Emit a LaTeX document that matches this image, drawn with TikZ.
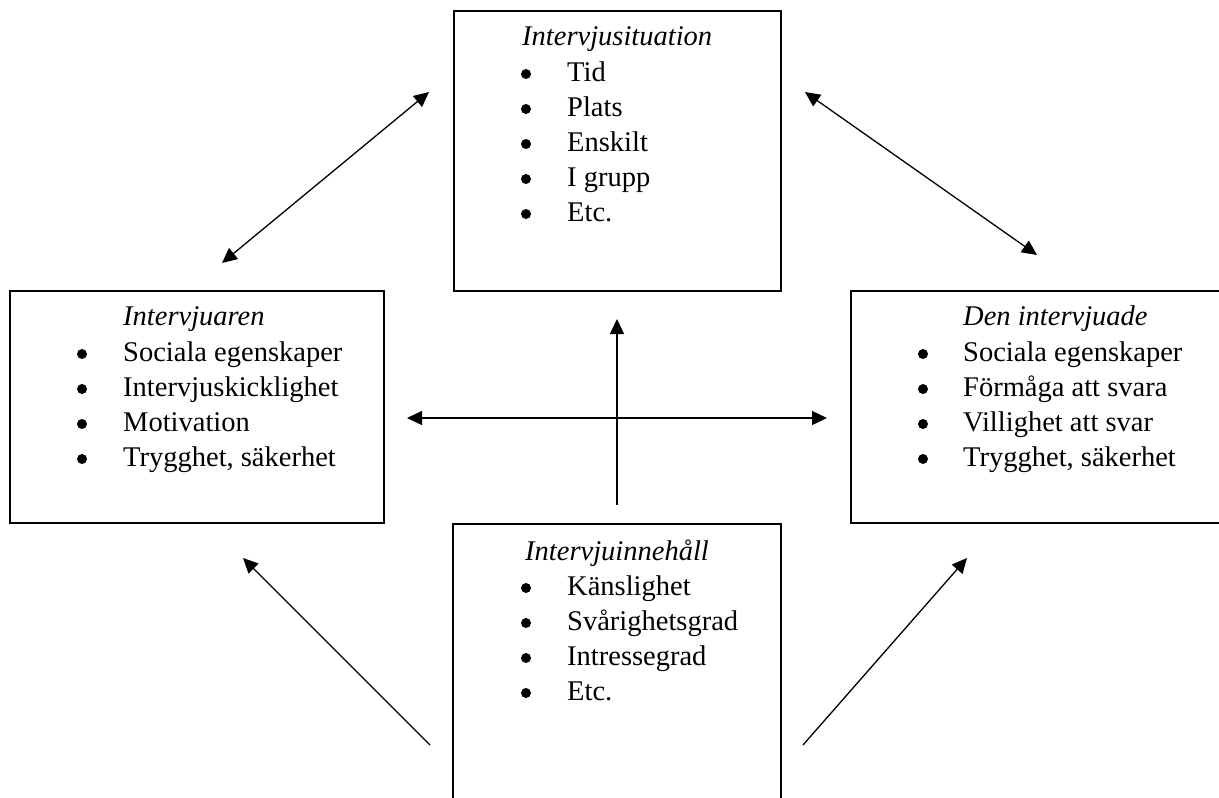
\documentclass[tikz,border=0pt]{standalone}
\usepackage{fontspec}
\setmainfont{Liberation Serif}
\usetikzlibrary{arrows.meta}
\begin{document}
\begin{tikzpicture}[x=1pt,y=-1pt,
  box/.style={draw, line width=1.6pt, inner sep=0pt, anchor=north west},
  lbl/.style={anchor=base west, inner sep=0pt, font=\fontsize{28.5}{34}\selectfont},
  ttl/.style={anchor=base west, inner sep=0pt, font=\fontsize{28.5}{34}\selectfont\itshape},
  bul/.style={circle, fill, inner sep=0pt, minimum size=10pt},
  arr/.style={line width=1.3pt, -{Triangle[length=15pt,width=14pt]}},
  darr/.style={line width=1.3pt, {Triangle[length=15pt,width=14pt]}-{Triangle[length=15pt,width=14pt]}}]
\useasboundingbox (0,0) rectangle (1219,798);
\clip (0,0) rectangle (1219,798);
\fill[white] (0,0) rectangle (1219,798);

% boxes
\node[box, minimum width=327pt, minimum height=280pt] (top) at (453,10) {};
\node[box, minimum width=374pt, minimum height=232pt] (left) at (9,290) {};
\node[box, minimum width=400pt, minimum height=232pt] (right) at (850,290) {};
\node[box, minimum width=328pt, minimum height=300pt] (bottom) at (452,523) {};

% top box text
\node[ttl] (tT) at (522,45) {Intervjusituation};
\foreach \y/\t [count=\i] in {81/Tid,116/Plats,151/Enskilt,186/I grupp,221/Etc.}{
  \node[bul] (tb\i) at (526,\y-7) {};
  \node[lbl] (tl\i) at (567,\y) {\t};
}

% left box text
\node[ttl] (lT) at (123,325) {Intervjuaren};
\foreach \y/\t [count=\i] in {361/Sociala egenskaper,396/Intervjuskicklighet,431/Motivation,466/{Trygghet, säkerhet}}{
  \node[bul] (lb\i) at (82,\y-7) {};
  \node[lbl] (ll\i) at (123,\y) {\t};
}

% right box text
\node[ttl] (rT) at (963,325) {Den intervjuade};
\foreach \y/\t [count=\i] in {361/Sociala egenskaper,396/Förmåga att svara,431/Villighet att svar,466/{Trygghet, säkerhet}}{
  \node[bul] (rb\i) at (923,\y-7) {};
  \node[lbl] (rl\i) at (963,\y) {\t};
}

% bottom box text
\node[ttl] (bT) at (525,560) {Intervjuinnehåll};
\foreach \y/\t [count=\i] in {595/Känslighet,630/Svårighetsgrad,665/Intressegrad,700/Etc.}{
  \node[bul] (bb\i) at (526,\y-7) {};
  \node[lbl] (bl\i) at (567,\y) {\t};
}

% connector end points
\coordinate (a1) at (222,263);
\coordinate (a2) at (429,92);
\coordinate (b1) at (805,92);
\coordinate (b2) at (1037,255);
\coordinate (h1) at (407,418);
\coordinate (h2) at (827,418);
\coordinate (v1) at (617,505);
\coordinate (v2) at (617,319);
\coordinate (l1) at (430,745);
\coordinate (l2) at (243,558);
\coordinate (r1) at (803,745);
\coordinate (r2) at (967,558);

\draw[darr] (a1) -- (a2);
\draw[darr] (b1) -- (b2);
\draw[darr] (h1) -- (h2);
\draw[arr] (v1) -- (v2);
\draw[arr] (l1) -- (l2);
\draw[arr] (r1) -- (r2);
\end{tikzpicture}
\end{document}
